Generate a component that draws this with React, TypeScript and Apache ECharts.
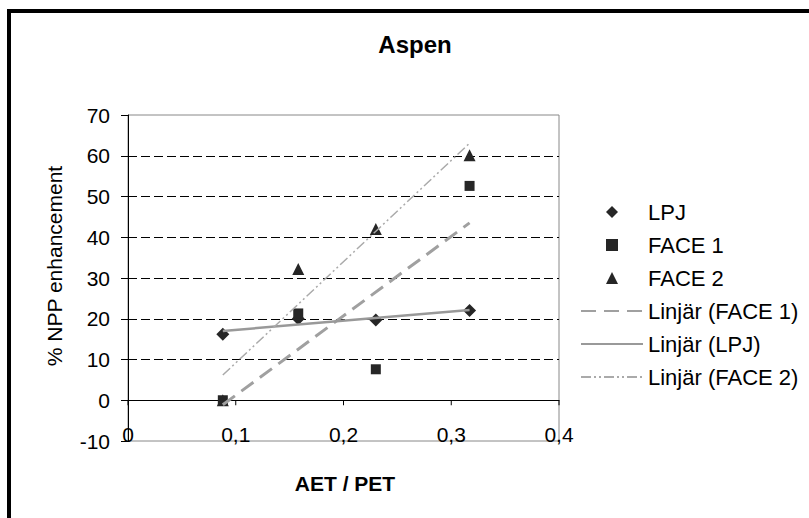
import React, { useEffect, useRef } from "react";
import * as echarts from "echarts";

// AET / PET ratio for each site
const aetPet = [0.088, 0.158, 0.23, 0.317];
// % NPP enhancement per source
const lpj = [16.2, 20.0, 19.7, 22.0];
const face1 = [0, 21.3, 7.6, 52.6];
const face2 = [0, 32.2, 42.0, 60.1];

// x-axis tick positions and their labels
const xTicks = [0, 0.1, 0.2, 0.3, 0.4];
const xTickLabels = ["0", "0,1", "0,2", "0,3", "0,4"];
const markerNames = ["LPJ", "FACE 1", "FACE 2"];
const trendNames = ["Linjär (FACE 1)", "Linjär (LPJ)", "Linjär (FACE 2)"];

const FONT = "'Liberation Sans', Arial, Helvetica, sans-serif";

// legend glyphs kept square inside the wide legend slot
const markerIcons = [
  "path://M5,0L10,5L5,10L0,5Z",
  "path://M0,0L10,0L10,10L0,10Z",
  "path://M5,0L10,10L0,10Z",
];

// least-squares line over the data's x range
function linearTrend(xs: number[], ys: number[]): number[][] {
  const n = xs.length;
  const mx = xs.reduce((a, b) => a + b, 0) / n;
  const my = ys.reduce((a, b) => a + b, 0) / n;
  let sxy = 0;
  let sxx = 0;
  for (let i = 0; i < n; i++) {
    sxy += (xs[i] - mx) * (ys[i] - my);
    sxx += (xs[i] - mx) * (xs[i] - mx);
  }
  const slope = sxy / sxx;
  const icpt = my - slope * mx;
  const x0 = Math.min(...xs);
  const x1 = Math.max(...xs);
  return [
    [x0, icpt + slope * x0],
    [x1, icpt + slope * x1],
  ];
}

const pts = (ys: number[]) => aetPet.map((x, i) => [x, ys[i]]);

export default function App() {
  const ref = useRef<HTMLDivElement>(null);

  useEffect(() => {
    if (!ref.current) return;
    const chart = echarts.init(ref.current, undefined, { renderer: "svg" });
    const markerStyle = { color: "#262626", opacity: 1 };
    const hiddenDot = { color: "rgba(0,0,0,0)", borderWidth: 0, opacity: 0 };
    chart.setOption({
      animation: false,
      backgroundColor: "#ffffff",
      textStyle: { fontFamily: FONT },
      grid: {
        left: 128,
        top: 115,
        right: 250,
        bottom: 77,
        show: true,
        borderColor: "#888888",
        borderWidth: 1,
      },
      legend: {
        orient: "vertical",
        left: 580,
        top: 201,
        padding: 0,
        itemWidth: 62,
        itemHeight: 12,
        itemGap: 11,
        data: [
          ...markerNames.map((name, i) => ({ name, icon: markerIcons[i] })),
          ...trendNames.map((name) => ({ name, itemStyle: hiddenDot })),
        ],
        textStyle: {
          fontFamily: FONT,
          fontSize: 22,
          lineHeight: 22,
          color: "#000",
        },
      },
      xAxis: {
        type: "value",
        min: 0,
        max: 0.4,
        interval: 0.1,
        axisLine: { onZero: true, lineStyle: { color: "#000", width: 1 } },
        axisTick: { show: false },
        axisLabel: {
          margin: -17,
          fontFamily: FONT,
          fontSize: 21,
          color: "#000",
          formatter: (_v: number, i: number) => xTickLabels[i],
        },
        splitLine: { show: false },
      },
      yAxis: {
        type: "value",
        min: -10,
        max: 70,
        interval: 10,
        axisLine: { show: true, onZero: false, lineStyle: { color: "#000", width: 1 } },
        axisTick: { show: true, inside: false, length: 7, lineStyle: { color: "#000" } },
        axisLabel: { margin: 18, fontFamily: FONT, fontSize: 21, color: "#000" },
        splitLine: {
          show: true,
          showMinLine: false,
          showMaxLine: false,
          lineStyle: { color: "#000", width: 1, type: [9, 4] },
        },
      },
      graphic: [
        {
          type: "rect",
          silent: true,
          shape: { x: 9, y: 11, width: 900, height: 600 },
          style: { fill: "none", stroke: "#000", lineWidth: 4 },
        },
        {
          type: "text",
          x: 415,
          y: 44,
          style: {
            text: "Aspen",
            fontFamily: FONT,
            fontSize: 24,
            fontWeight: "bold",
            fill: "#000",
            align: "center",
            verticalAlign: "middle",
          },
        },
        {
          type: "text",
          x: 345,
          y: 483,
          style: {
            text: "AET / PET",
            fontFamily: FONT,
            fontSize: 21,
            fontWeight: "bold",
            fill: "#000",
            align: "center",
            verticalAlign: "middle",
          },
        },
        {
          type: "text",
          x: 54,
          y: 266,
          rotation: Math.PI / 2,
          style: {
            text: "% NPP enhancement",
            fontFamily: FONT,
            fontSize: 21,
            fill: "#000",
            align: "center",
            verticalAlign: "middle",
          },
        },
      ],
      series: [
        {
          // tick marks hanging below the zero line
          name: "xTicks",
          type: "scatter",
          silent: true,
          symbol: "rect",
          symbolSize: [1, 5],
          symbolOffset: [0, 2.5],
          itemStyle: { color: "#000", opacity: 1 },
          data: xTicks.map((x) => [x, 0]),
          z: 1,
        },
        {
          name: "LPJ",
          type: "scatter",
          symbol: "diamond",
          symbolSize: 13,
          itemStyle: markerStyle,
          data: pts(lpj),
          z: 2,
        },
        {
          name: "FACE 2",
          type: "scatter",
          symbol: "triangle",
          symbolSize: [12, 12],
          itemStyle: markerStyle,
          data: pts(face2),
          z: 2,
        },
        {
          name: "FACE 1",
          type: "scatter",
          symbol: "rect",
          symbolSize: 10,
          itemStyle: markerStyle,
          data: pts(face1),
          z: 3,
        },
        {
          name: "Linjär (FACE 1)",
          type: "line",
          symbol: "none",
          data: linearTrend(aetPet, face1),
          lineStyle: { color: "#a0a0a0", width: 3, type: [15, 8] },
          itemStyle: { color: "#a0a0a0" },
          z: 4,
        },
        {
          name: "Linjär (LPJ)",
          type: "line",
          symbol: "none",
          data: linearTrend(aetPet, lpj),
          lineStyle: { color: "#999999", width: 2.5, type: "solid" },
          itemStyle: { color: "#999999" },
          z: 4,
        },
        {
          name: "Linjär (FACE 2)",
          type: "line",
          symbol: "none",
          data: linearTrend(aetPet, face2),
          lineStyle: { color: "#aaaaaa", width: 1.5, type: [10, 3, 2, 3, 2, 3] },
          itemStyle: { color: "#aaaaaa" },
          z: 4,
        },
      ],
    });
    return () => chart.dispose();
  }, []);

  return (
    <div
      ref={ref}
      style={{ position: "fixed", left: 0, top: 0, width: 809, height: 518, background: "#fff" }}
    />
  );
}
